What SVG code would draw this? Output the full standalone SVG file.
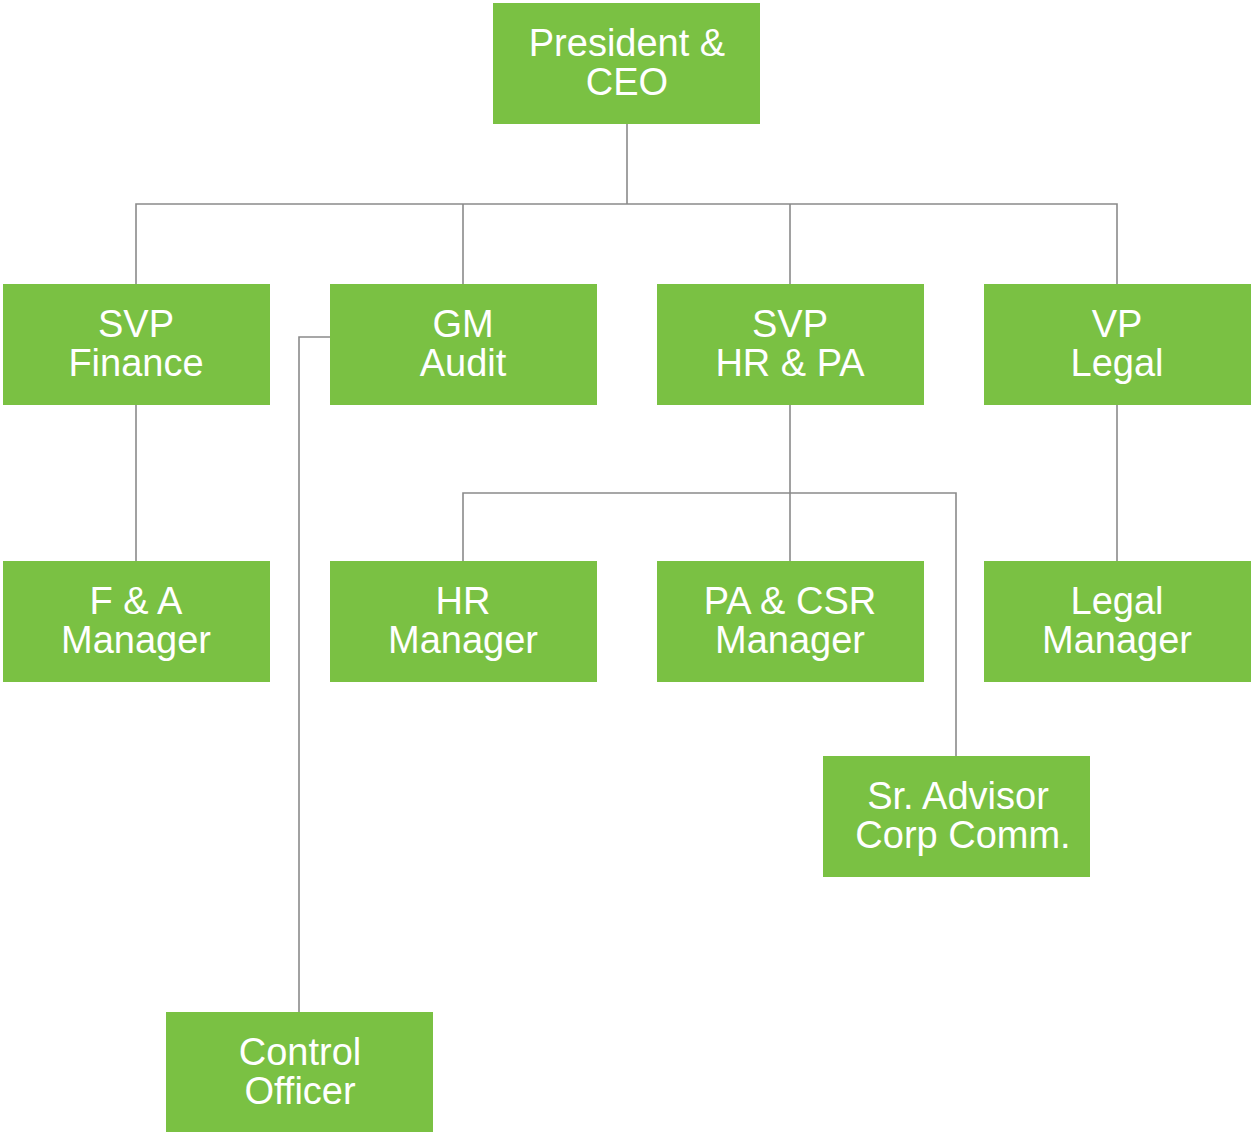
<svg xmlns="http://www.w3.org/2000/svg" width="1251" height="1132" viewBox="0 0 1251 1132">
<style>
.box{fill:#7AC143}
.lbl{fill:#ffffff;font-family:"Liberation Sans",Arial,sans-serif;font-size:38px;text-anchor:middle}
.ln{fill:none;stroke:#8a8a8a;stroke-width:1.6}
</style>
<rect width="1251" height="1132" fill="#ffffff"/>
<g id="connectors">
<path class="ln" d="M627,124 V204 M136,284 V204 H1117 V284 M463,204 V284 M790,204 V284"/>
<path class="ln" d="M136,405 V561 M1117,405 V561"/>
<path class="ln" d="M790,405 V561 M463,561 V493 H956 V756"/>
<path class="ln" d="M330,337 H299 V1012"/>
</g>
<g id="ceo"><rect class="box" x="493" y="3" width="267" height="121"/><text class="lbl" x="627"><tspan x="627" y="56">President &amp;</tspan><tspan x="627" y="95">CEO</tspan></text></g>
<g id="svp-finance"><rect class="box" x="3" y="284" width="267" height="121"/><text class="lbl"><tspan x="136" y="337">SVP</tspan><tspan x="136" y="376">Finance</tspan></text></g>
<g id="gm-audit"><rect class="box" x="330" y="284" width="267" height="121"/><text class="lbl"><tspan x="463" y="337">GM</tspan><tspan x="463" y="376">Audit</tspan></text></g>
<g id="svp-hr"><rect class="box" x="657" y="284" width="267" height="121"/><text class="lbl"><tspan x="790" y="337">SVP</tspan><tspan x="790" y="376">HR &amp; PA</tspan></text></g>
<g id="vp-legal"><rect class="box" x="984" y="284" width="267" height="121"/><text class="lbl"><tspan x="1117" y="337">VP</tspan><tspan x="1117" y="376">Legal</tspan></text></g>
<g id="fa-manager"><rect class="box" x="3" y="561" width="267" height="121"/><text class="lbl"><tspan x="136" y="614">F &amp; A</tspan><tspan x="136" y="653">Manager</tspan></text></g>
<g id="hr-manager"><rect class="box" x="330" y="561" width="267" height="121"/><text class="lbl"><tspan x="463" y="614">HR</tspan><tspan x="463" y="653">Manager</tspan></text></g>
<g id="pa-csr-manager"><rect class="box" x="657" y="561" width="267" height="121"/><text class="lbl"><tspan x="790" y="614">PA &amp; CSR</tspan><tspan x="790" y="653">Manager</tspan></text></g>
<g id="legal-manager"><rect class="box" x="984" y="561" width="267" height="121"/><text class="lbl"><tspan x="1117" y="614">Legal</tspan><tspan x="1117" y="653">Manager</tspan></text></g>
<g id="sr-advisor"><rect class="box" x="823" y="756" width="267" height="121"/><text class="lbl"><tspan x="958" y="809">Sr. Advisor</tspan><tspan x="963" y="848">Corp Comm.</tspan></text></g>
<g id="control-officer"><rect class="box" x="166" y="1012" width="267" height="120"/><text class="lbl"><tspan x="300" y="1065">Control</tspan><tspan x="300" y="1104">Officer</tspan></text></g>
</svg>
